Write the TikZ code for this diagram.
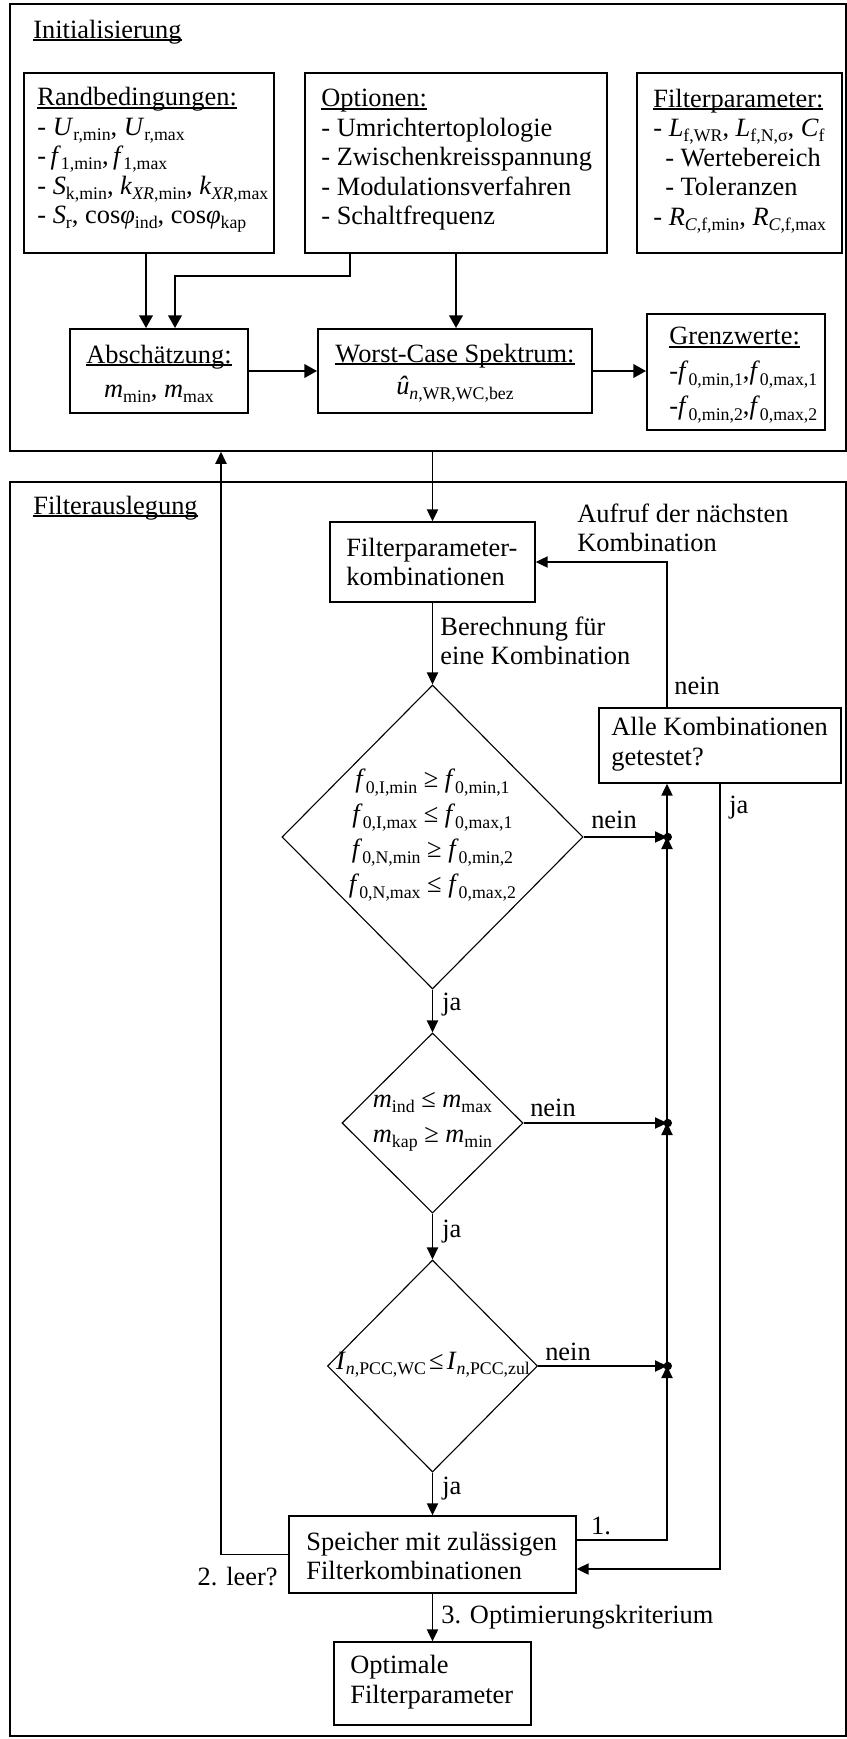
\documentclass[tikz,border=0pt]{standalone}
\usepackage{fontspec}
\setmainfont{Liberation Serif}
\usetikzlibrary{arrows.meta,shapes.geometric}
\newcommand\ssub[1]{\raisebox{-0.2em}{\fontsize{8.9}{9}\selectfont #1}}
\newcommand\vi[1]{\textit{#1}}
\newcommand\ulx[1]{\begingroup\setbox0\hbox{#1}\rlap{\rule[-0.11em]{\wd0}{0.07em}}\box0\endgroup}
\begin{document}
\begin{tikzpicture}[x=0.5pt,y=-0.5pt,
  font=\fontsize{13.2}{14.75}\selectfont,
  frame/.style={draw, line width=0.9pt, inner sep=0pt, anchor=north west},
  tbox/.style={draw, line width=1pt, inner sep=0pt},
  lbox/.style={draw, line width=0.7pt, inner sep=0pt},
  dia/.style={draw, diamond, line width=0.55pt, inner sep=0pt},
  txt/.style={inner sep=0pt, align=left},
  ctxt/.style={inner sep=0pt, align=center},
  tarr/.style={line width=0.9pt, -{Triangle[length=6.3pt,width=6.8pt]}},
  larr/.style={line width=0.75pt, -{Triangle[length=6pt,width=5.6pt]}},
  jdot/.style={fill=black}
]
\useasboundingbox (0,0) rectangle (846,1739);

% ---------------- Initialisierung ----------------
\node[frame, minimum width=418pt, minimum height=223.5pt] (init) at (9,3) {};
\node[txt, anchor=west] (initT) at (33,32) {\ulx{Initialisierung}};

\node[tbox, minimum width=125pt, minimum height=90pt] (rand) at (149,163) {};
\node[txt, anchor=west] (randT) at (37,160) {\ulx{Randbedingungen:}\\
- \vi{U}\ssub{r,min}, \vi{U}\ssub{r,max}\\
-\,\vi{f}\ssub{1,min},\,\vi{f}\ssub{1,max}\\
- \vi{S}\ssub{k,min}, \vi{k}\ssub{\vi{XR},min}, \vi{k}\ssub{\vi{XR},max}\\
- \vi{S}\ssub{r}, cos\vi{φ}\ssub{ind}, cos\vi{φ}\ssub{kap}};

\node[tbox, minimum width=151pt, minimum height=90pt] (opt) at (456,163) {};
\node[txt, anchor=west] (optT) at (321,160) {\ulx{Optionen:}\\
- Umrichtertoplologie\\
- Zwischenkreisspannung\\
- Modulationsverfahren\\
- Schaltfrequenz};

\node[tbox, minimum width=102.5pt, minimum height=90pt] (fpar) at (739.5,163) {};
\node[txt, anchor=west] (fparT) at (653,161) {\ulx{Filterparameter:}\\
- \vi{L}\ssub{f,WR}, \vi{L}\ssub{f,N,σ}, \vi{C}\ssub{f}\\
\hspace*{0.45em}- Wertebereich\\
\hspace*{0.45em}- Toleranzen\\
- \vi{R}\ssub{\vi{C},f,min}, \vi{R}\ssub{\vi{C},f,max}};

\node[tbox, minimum width=89pt, minimum height=42pt] (absch) at (159,371) {};
\node[ctxt, font=\fontsize{13.2}{17}\selectfont] (abschT) at (159,374) {\ulx{Abschätzung:}\\\vi{m}\ssub{min}, \vi{m}\ssub{max}};

\node[tbox, minimum width=137pt, minimum height=42pt] (worst) at (455,371) {};
\node[ctxt, font=\fontsize{13.2}{16}\selectfont] (worstT) at (455,373) {\ulx{Worst-Case Spektrum:}\\\vi{û}\ssub{\vi{n},WR,WC,bez}};

\node[tbox, minimum width=89pt, minimum height=58pt] (grenz) at (736,372) {};
\node[txt, anchor=west, font=\fontsize{13.2}{17.5}\selectfont] (grenzT) at (669,375) {\ulx{Grenzwerte:}\\
-\vi{f}\ssub{0,min,1},\vi{f}\ssub{0,max,1}\\
-\vi{f}\ssub{0,min,2},\vi{f}\ssub{0,max,2}};

\coordinate (xa) at (146,0);
\coordinate (xb) at (350,276);
\coordinate (xc) at (175,0);
\draw[tarr] (rand.south -| xa) -- (absch.north -| xa);
\draw[tarr] (opt.south -| xb) -- (xb) -| (absch.north -| xc);
\draw[tarr] (opt.south) -- (opt.south |- worst.north);
\draw[tarr] (absch.east) -- (worst.west);
\draw[tarr] (worst.east) -- (worst.east -| grenz.west);

% ---------------- Filterauslegung ----------------
\node[frame, minimum width=418pt, minimum height=627pt] (filt) at (9,481) {};
\node[txt, anchor=west] (filtT) at (33,508) {\ulx{Filterauslegung}};

\node[lbox, minimum width=102.5pt, minimum height=40pt] (fkomb) at (432.5,562) {};
\node[txt, anchor=west] (fkombT) at (346,562) {Filterparameter-\\kombinationen};

\node[lbox, minimum width=121pt, minimum height=37.5pt] (alle) at (720,745.5) {};
\node[txt, anchor=west] (alleT) at (611,744) {Alle Kombinationen\\getestet?};

\node[dia, minimum width=150.5pt, minimum height=152pt] (d1) at (432.5,837) {};
\node[ctxt, font=\fontsize{13.2}{17.5}\selectfont] (d1T) at (432.5,835) {%
\vi{f}\ssub{0,I,min} ≥ \vi{f}\ssub{0,min,1}\\
\vi{f}\ssub{0,I,max} ≤ \vi{f}\ssub{0,max,1}\\
\vi{f}\ssub{0,N,min} ≥ \vi{f}\ssub{0,min,2}\\
\vi{f}\ssub{0,N,max} ≤ \vi{f}\ssub{0,max,2}};

\node[dia, minimum width=90.5pt, minimum height=90pt] (d2) at (432.5,1123) {};
\node[ctxt, font=\fontsize{13.2}{17.5}\selectfont] (d2T) at (432.5,1122) {%
\vi{m}\ssub{ind} ≤ \vi{m}\ssub{max}\\
\vi{m}\ssub{kap} ≥ \vi{m}\ssub{min}};

\node[dia, minimum width=105pt, minimum height=106pt] (d3) at (432.5,1366) {};
\node[ctxt] (d3T) at (433,1365) {\vi{I}\ssub{\vi{n},PCC,WC}\hspace{0.12em}≤\hspace{0.12em}\vi{I}\ssub{\vi{n},PCC,zul}};

\node[lbox, minimum width=143.5pt, minimum height=38.5pt] (speicher) at (432.5,1554.5) {};
\node[txt, anchor=west] (speicherT) at (306,1556) {Speicher mit zulässigen\\Filterkombinationen};

\node[lbox, minimum width=98.5pt, minimum height=41.5pt] (optim) at (432.5,1683.5) {};
\node[txt, anchor=west] (optimT) at (350,1682) {Optimale\\Filterparameter};

% connectors
\draw[larr] (init.south -| fkomb.north) -- (fkomb.north);
\coordinate (xl) at (221,0);
\draw[larr] (speicher.west) -| (init.south -| xl);
\node[txt, anchor=east] (leer) at (278,1577) {2. leer?};

\draw[larr] (fkomb.south) -- (d1.north);
\node[txt, anchor=west] (ber) at (440,641) {Berechnung für\\eine Kombination};
\draw[larr] (d1.south) -- (d2.north);
\node[txt, anchor=west] (ja1) at (442,1005) {ja};
\draw[larr] (d2.south) -- (d3.north);
\node[txt, anchor=west] (ja2) at (442,1232) {ja};
\draw[larr] (d3.south) -- (speicher.north);
\node[txt, anchor=west] (ja3) at (442,1489) {ja};
\draw[larr] (speicher.south) -- (optim.north);
\node[txt, anchor=west] (opti) at (441,1617) {3. Optimierungskriterium};

\coordinate (xj) at (667,0);
\coordinate (xr) at (720,0);
\coordinate (ys1) at (0,1540);
\coordinate (ys2) at (0,1569);
\coordinate (yt) at (0,562);
\coordinate (j1) at (d1.east -| xj);
\coordinate (j2) at (d2.east -| xj);
\coordinate (j3) at (d3.east -| xj);

\draw[larr] (d1.east) -- (j1);
\draw[larr] (d2.east) -- (j2);
\draw[larr] (d3.east) -- (j3);
\node[txt] (nein1) at (614,820) {nein};
\node[txt] (nein2) at (553,1108) {nein};
\node[txt] (nein3) at (568,1352) {nein};

\draw[larr] (speicher.east |- ys1) -- (xj |- ys1) -- (j3);
\draw[larr] (j3) -- (j2);
\draw[larr] (j2) -- (j1);
\draw[larr] (j1) -- (alle.south -| xj);
\fill[jdot] ([xshift=0.4pt]j1) circle (2.1pt);
\fill[jdot] ([xshift=0.4pt]j2) circle (2.1pt);
\fill[jdot] ([xshift=0.4pt]j3) circle (2.1pt);
\node[txt] (eins) at (601,1526) {1.};

\draw[larr] (alle.south -| xr) -- (xr |- ys2) -- (speicher.east |- ys2);
\node[txt, anchor=west] (jaR) at (729,808) {ja};

\draw[larr] (alle.north -| xj) -- (xj |- yt) -- (fkomb.east |- yt);
\node[txt, anchor=west] (neinTop) at (674,686) {nein};
\node[txt, anchor=west] (aufruf) at (577,528) {Aufruf der nächsten\\Kombination};
\end{tikzpicture}
\end{document}
